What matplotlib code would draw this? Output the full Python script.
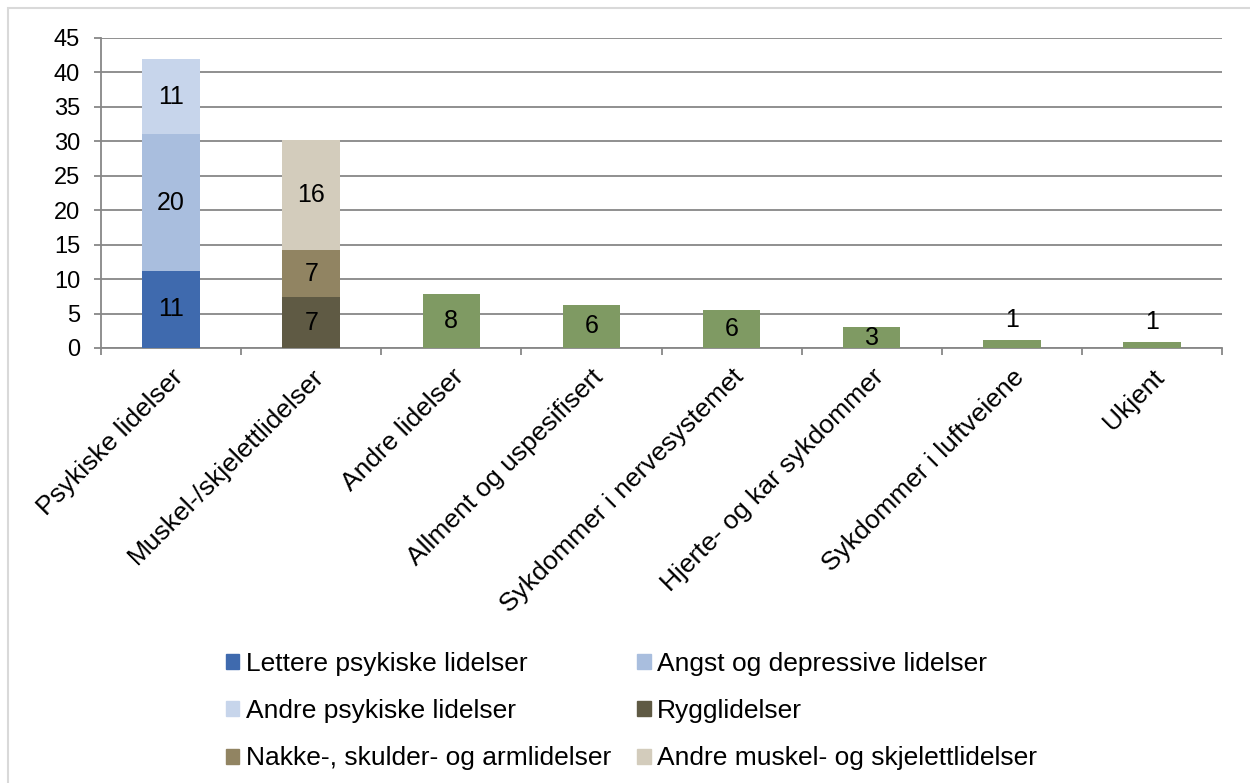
import matplotlib.pyplot as plt
import numpy as np
from matplotlib.patches import Patch, Rectangle

plt.rcParams['font.family'] = ['Liberation Sans', 'DejaVu Sans']

# categories along the x axis
categories = ["Psykiske lidelser", "Muskel-/skjelettlidelser", "Andre lidelser",
              "Allment og uspesifisert", "Sykdommer i nervesystemet",
              "Hjerte- og kar sykdommer", "Sykdommer i luftveiene", "Ukjent"]

# stacked parts of the first two bars
psyk_names = ["Lettere psykiske lidelser", "Angst og depressive lidelser", "Andre psykiske lidelser"]
psyk_vals = [11.2, 19.8, 11.0]
psyk_labels = ["11", "20", "11"]

musk_names = ["Rygglidelser", "Nakke-, skulder- og armlidelser", "Andre muskel- og skjelettlidelser"]
musk_vals = [7.4, 6.8, 16.0]
musk_labels = ["7", "7", "16"]

# single bars for the rest
other_vals = [7.9, 6.3, 5.5, 3.0, 1.15, 0.85]
other_labels = ["8", "6", "6", "3", "1", "1"]

psyk_colors = ["#3F6AAE", "#A9BEDE", "#C7D5EB"]
musk_colors = ["#5F5A44", "#918462", "#D3CCBC"]
green = "#7F9A63"
grid_col = "#878787"

fig = plt.figure(figsize=(12.5, 7.83), dpi=100)
ax = fig.add_axes([101 / 1250, 1 - 348 / 783, (1222 - 101) / 1250, (348 - 38) / 783])

x = np.arange(len(categories))
w = 0.41
fs = 18      # data labels
fs_txt = 19  # category and legend text

# stacked bar 1 and 2
for vals, labels, cols, xi in [(psyk_vals, psyk_labels, psyk_colors, 0),
                               (musk_vals, musk_labels, musk_colors, 1)]:
    bottom = 0
    for v, lab, c in zip(vals, labels, cols):
        ax.bar(xi, v, w, bottom=bottom, color=c, zorder=3)
        ax.text(xi, bottom + v / 2, lab, ha='center', va='center', fontsize=fs, zorder=4)
        bottom += v

# remaining green bars
for xi, v, lab in zip(x[2:], other_vals, other_labels):
    ax.bar(xi, v, w, color=green, zorder=3)
    if v >= 2:
        ax.text(xi, v / 2, lab, ha='center', va='center', fontsize=fs, zorder=4)
    else:
        ax.annotate(lab, (xi, v), xytext=(0, 6), textcoords='offset points',
                    ha='center', va='bottom', fontsize=fs, zorder=4)

ax.set_xlim(-0.5, len(categories) - 0.5)
ax.set_ylim(0, 45)
ax.set_yticks(np.arange(0, 46, 5))
ax.yaxis.grid(True, color=grid_col, linewidth=1.3, zorder=0)
ax.set_axisbelow(True)

for s in ['top', 'right']:
    ax.spines[s].set_visible(False)
for s in ['left', 'bottom']:
    ax.spines[s].set_color(grid_col)
    ax.spines[s].set_linewidth(1.3)

ax.tick_params(axis='y', length=5, width=1.3, color=grid_col, labelsize=17, pad=10)
ax.set_xticks(np.arange(-0.5, len(categories), 1.0), minor=True)
ax.tick_params(axis='x', which='minor', length=5, width=1.3, color=grid_col)
ax.set_xticks(x)
ax.set_xticklabels(categories, rotation=45, ha='right', rotation_mode='anchor', fontsize=fs_txt)
ax.tick_params(axis='x', which='major', length=0, pad=12)

# legend, row-wise order matching the original
handles = {n: Patch(color=c) for n, c in zip(psyk_names + musk_names, psyk_colors + musk_colors)}
order = [psyk_names[0], psyk_names[2], musk_names[1], psyk_names[1], musk_names[0], musk_names[2]]
fig.legend([handles[n] for n in order], order, ncol=2, loc='upper left',
           bbox_to_anchor=(226 / 1250, 1 - 652 / 783), frameon=False, fontsize=fs_txt,
           handlelength=0.5, handleheight=0.5, handletextpad=0.25,
           columnspacing=1.0, labelspacing=0.88, borderpad=0, borderaxespad=0)

# light frame around the chart area
fig.patches.append(Rectangle((8 / 1250, -0.1), 1.2, 1 - 8 / 783 + 0.1, transform=fig.transFigure,
                             fill=False, edgecolor="#D9D9D9", linewidth=1.5))

fig.savefig("out.png", dpi=100)
